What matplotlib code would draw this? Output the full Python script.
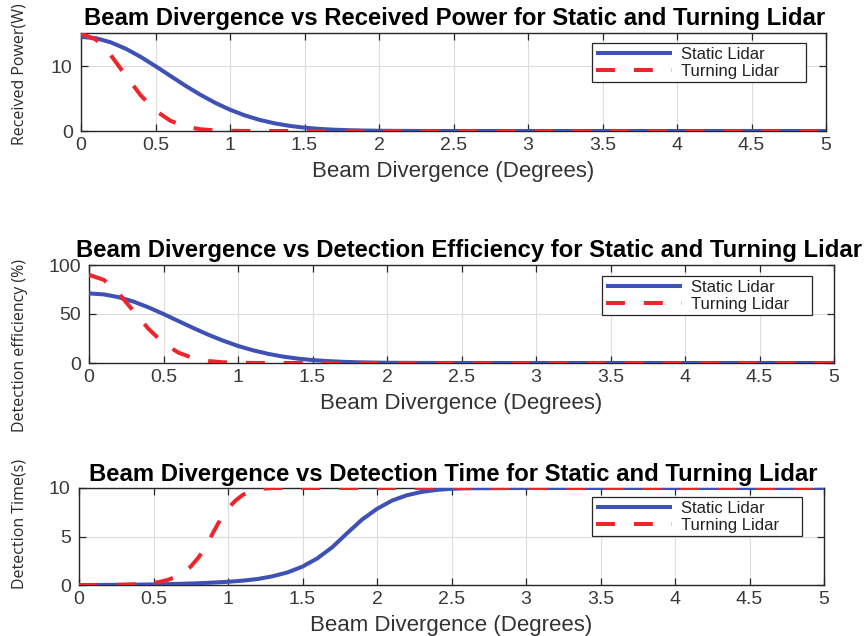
import matplotlib
matplotlib.use("Agg")
import matplotlib.pyplot as plt
from matplotlib import font_manager

# ---------------- data ----------------
x_fine = [0, 0.1, 0.2, 0.3, 0.4, 0.5, 0.6, 0.7, 0.8, 0.9, 1.0, 1.1, 1.2, 1.3,
          1.4, 1.5, 1.6, 1.7, 1.8, 1.9, 2.0, 2.1, 2.2, 2.3, 2.4, 2.5, 2.6,
          3.0, 3.5, 4.0, 4.5, 5.0]

power_static = [14.5, 14.3, 13.66, 12.68, 11.43, 9.99, 8.49, 6.99, 5.60, 4.35,
                3.28, 2.40, 1.70, 1.18, 0.79, 0.51, 0.32, 0.20, 0.12, 0.07,
                0.04, 0.02, 0.01, 0, 0, 0, 0, 0, 0, 0, 0, 0]
power_turning = [15.0, 14.09, 11.68, 8.55, 5.52, 3.14, 1.58, 0.70, 0.27, 0.09,
                 0.03, 0.01, 0, 0, 0, 0, 0, 0, 0, 0, 0, 0, 0, 0, 0, 0, 0,
                 0, 0, 0, 0, 0]

eff_static = [71.0, 70.0, 67.1, 62.6, 56.7, 50.0, 42.8, 35.7, 28.9, 22.8,
              17.4, 13.0, 9.4, 6.6, 4.5, 3.0, 1.95, 1.23, 0.75, 0.45,
              0.26, 0.15, 0.08, 0.04, 0.02, 0, 0, 0, 0, 0, 0, 0]
eff_turning = [90.0, 84.8, 70.9, 52.7, 34.7, 20.3, 10.6, 4.9, 2.0, 0.73,
               0.24, 0.07, 0.02, 0, 0, 0, 0, 0, 0, 0, 0, 0, 0, 0, 0, 0, 0,
               0, 0, 0, 0, 0]

time_static = [0, 0, 0.01, 0.02, 0.04, 0.06, 0.09, 0.13, 0.18, 0.25,
               0.33, 0.45, 0.62, 0.9, 1.3, 1.9, 2.75, 3.9, 5.35, 6.75,
               7.85, 8.7, 9.25, 9.6, 9.8, 9.92, 9.97, 10, 10, 10, 10, 10]

x_turn_time = [0, 0.1, 0.2, 0.3, 0.4, 0.5, 0.55, 0.6, 0.65, 0.7, 0.75, 0.8,
               0.85, 0.9, 0.95, 1.0, 1.05, 1.1, 1.15, 1.2, 1.25, 1.3, 1.5,
               2.0, 3.0, 4.0, 5.0]
time_turning = [0, 0, 0.01, 0.03, 0.08, 0.2, 0.35, 0.55, 0.85, 1.3, 1.9, 2.8,
                3.9, 5.4, 6.8, 7.9, 8.7, 9.3, 9.65, 9.85, 9.95, 10, 10,
                10, 10, 10, 10]

x_ticks = [0, 0.5, 1, 1.5, 2, 2.5, 3, 3.5, 4, 4.5, 5]
x_tick_labels = ["0", "0.5", "1", "1.5", "2", "2.5", "3", "3.5", "4", "4.5", "5"]

titles = ["Beam Divergence vs Received Power for Static and Turning Lidar",
          "Beam Divergence vs Detection Efficiency for Static and Turning Lidar",
          "Beam Divergence vs Detection Time for Static and Turning Lidar"]
ylabels = ["Received Power(W)", "Detection efficiency (%)", "Detection Time(s)"]
xlabel = "Beam Divergence (Degrees)"
legend_labels = ["Static Lidar", "Turning Lidar"]

# ---------------- style ----------------
avail = {f.name for f in font_manager.fontManager.ttflist}
main_font = "Liberation Sans" if "Liberation Sans" in avail else "DejaVu Sans"
label_font = "Open Sans" if "Open Sans" in avail else main_font

plt.rcParams["font.family"] = [main_font, "DejaVu Sans"]

BLUE = "#3F51B5"
RED = "#F0242B"
DARK = "#262626"

W, H = 868, 636
fig = plt.figure(figsize=(W / 100, H / 100), dpi=100)

def px_axes(left, top, right, bottom):
    return fig.add_axes([left / W, 1 - bottom / H, (right - left) / W, (bottom - top) / H])

boxes = [(81, 33, 826, 131), (89, 265, 834, 363), (79, 488, 824, 585)]
ylims = [(0, 15.1), (0, 100), (0, 10)]
yticks = [[0, 10], [0, 50, 100], [0, 5, 10]]
series = [
    (x_fine, power_static, x_fine, power_turning),
    (x_fine, eff_static, x_fine, eff_turning),
    (x_fine, time_static, x_turn_time, time_turning),
]
legend_boxes = [(592, 43, 806, 83), (602, 276, 812, 317), (592, 497, 802, 537)]
ylabel_pos = [(20, 74), (20, 345), (20, 524)]
title_pos = [(455, 18), (469, 251), (453, 474)]
xlabel_y = [171, 404, 626]

for i in range(3):
    l, t, r, b = boxes[i]
    ax = px_axes(l, t, r, b)
    xs, ys, xt, yt = series[i]
    ax.plot(xs, ys, color=BLUE, lw=2.9, solid_capstyle="butt", label=legend_labels[0], zorder=3)
    ax.plot(xt, yt, color=RED, lw=2.9, linestyle=(0, (4.7, 4.7)), dash_capstyle="butt",
            label=legend_labels[1], zorder=4)
    ax.set_xlim(0, 5)
    ax.set_ylim(*ylims[i])
    ax.set_xticks(x_ticks)
    ax.set_xticklabels(x_tick_labels)
    ax.set_yticks(yticks[i])
    ax.grid(True, color="#DCDCDC", lw=0.8, zorder=0)
    ax.set_axisbelow(True)
    ax.tick_params(direction="in", length=5, width=0.9, colors=DARK, labelsize=14,
                   top=True, right=True)
    ax.tick_params(axis="x", pad=4)
    ax.tick_params(axis="y", pad=6)
    for sp in ax.spines.values():
        sp.set_color(DARK)
        sp.set_linewidth(1.0)
    for tl in ax.get_xticklabels() + ax.get_yticklabels():
        tl.set_color("#3a3a3a")
    # legend (expanded to the reference box width)
    ll, lt, lr, lb = legend_boxes[i]
    ax_w, ax_h = r - l, b - t
    bx0 = (ll - l) / ax_w
    by1 = (b - lt) / ax_h
    bw = (lr - ll) / ax_w
    leg = ax.legend(loc="upper left", bbox_to_anchor=(bx0, by1 - 0.01, bw, 0.01),
                    mode="expand", borderaxespad=0,
                    fontsize=12, handlelength=4.55, handletextpad=0.55,
                    labelspacing=0.12, borderpad=0.22, fancybox=False,
                    framealpha=1, edgecolor=DARK)
    leg.get_frame().set_linewidth(0.9)
    for txt in leg.get_texts():
        txt.set_color("#222222")
    # title / labels in pixel positions
    tx, ty = title_pos[i]
    fig.text(tx / W, 1 - ty / H, titles[i], ha="center", va="center",
             fontsize=17.2, fontweight="bold", color="black")
    fig.text((l + r) / 2 / W, 1 - xlabel_y[i] / H, xlabel, ha="center", va="center",
             fontsize=16, color="#333333")
    yx, yy = ylabel_pos[i]
    fig.text(yx / W, 1 - yy / H, ylabels[i], ha="center", va="center", rotation=90,
             fontsize=11.5, color="#2a2a2a", family=[label_font, "DejaVu Sans"])

fig.savefig("out.png", dpi=100)
